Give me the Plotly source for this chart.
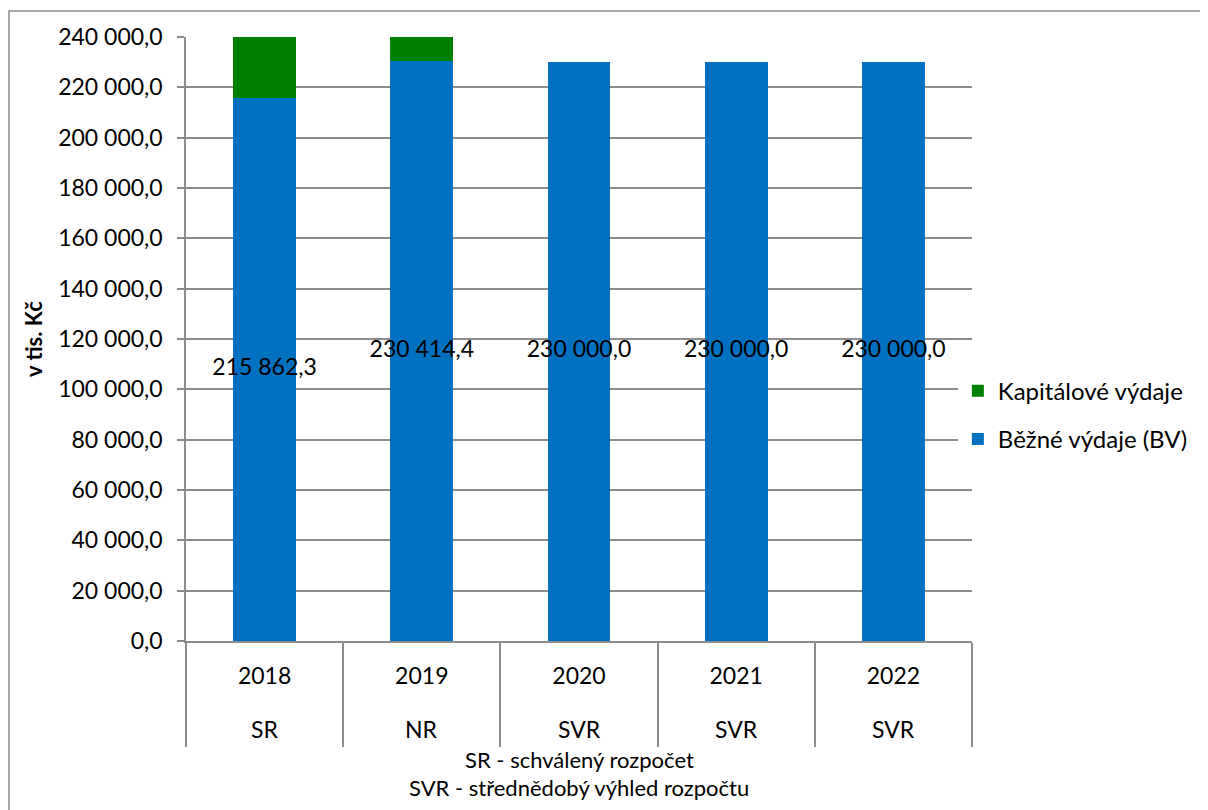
import plotly.graph_objects as go

years = ["2018", "2019", "2020", "2021", "2022"]
budget_types = ["SR", "NR", "SVR", "SVR", "SVR"]
bezne_vydaje = [215862.3, 230414.4, 230000.0, 230000.0, 230000.0]
kapitalove_vydaje = [35000.0, 15000.0, 0.0, 0.0, 0.0]
x_title_lines = ["SR - schválený rozpočet", "SVR - střednědobý výhled rozpočtu"]

FONT = "Lato, Open Sans, sans-serif"
GRID = "#8c8c8c"
FS = 23

fig = go.Figure()
fig.add_trace(go.Bar(x=years, y=bezne_vydaje, name="Běžné výdaje (BV)",
                     marker=dict(color="#0070C0", line=dict(width=0)),
                     legendrank=2, legendgroup="bv"))
fig.add_trace(go.Bar(x=years, y=kapitalove_vydaje, name="Kapitálové výdaje",
                     marker=dict(color="#008000", line=dict(width=0)),
                     legendrank=1, legendgroup="kv"))

# value labels centred in the blue segment
fig.add_trace(go.Scatter(
    x=years, y=[v / 2 for v in bezne_vydaje], mode="text",
    text=[f"{v:,.1f}".replace(",", " ").replace(".", ",") for v in bezne_vydaje],
    textfont=dict(family=FONT, size=FS, color="black"),
    showlegend=False, hoverinfo="skip", cliponaxis=False))

fig.update_layout(
    width=1208, height=810,
    barmode="stack", bargap=0.6,
    separators=", ",
    plot_bgcolor="white", paper_bgcolor="white",
    margin=dict(l=178, r=244, t=29, b=177),
    font=dict(family=FONT, size=FS, color="black"),
    legend=dict(x=0.982, xanchor="left", y=0.374, yanchor="middle",
                traceorder="grouped", tracegroupgap=14,
                font=dict(size=24), itemwidth=30),
    showlegend=True,
)

fig.update_yaxes(range=[0, 240000], dtick=20000, tickformat=",.1f",
                 showgrid=True, gridcolor=GRID, gridwidth=1.5,
                 showline=True, linecolor=GRID, linewidth=1.5,
                 ticks="outside", ticklen=7, tickcolor=GRID, tickwidth=1.5,
                 zeroline=False, tickfont=dict(size=FS), ticklabelstandoff=10)
fig.update_xaxes(type="category", range=[-0.5, len(years) - 0.5],
                 showline=True, linecolor=GRID, linewidth=1.5,
                 ticks="outside", tickson="boundaries", ticklen=104,
                 tickcolor=GRID, tickwidth=1.5, showgrid=False,
                 tickfont=dict(size=FS), ticklabelstandoff=14)

# second row of the category axis
for i, bt in enumerate(budget_types):
    fig.add_annotation(text=bt, x=i, xref="x", yref="paper", y=-0.1457,
                       yanchor="middle", showarrow=False, font=dict(size=FS))

# axis titles
fig.add_annotation(text="<b>v tis. Kč</b>", xref="paper", yref="paper",
                   x=-0.1947, y=0.5, textangle=-90, showarrow=False,
                   xanchor="center", yanchor="middle", font=dict(size=22))
for i, line in enumerate(x_title_lines):
    fig.add_annotation(text=line, xref="paper", yref="paper",
                       x=0.5, y=-0.197 - i * 0.0455, yanchor="middle",
                       showarrow=False, borderpad=0, font=dict(size=22))

# outer chart border
fig.add_shape(type="rect", xref="paper", yref="paper",
              x0=-0.2252, y0=-0.35, x1=1.33, y1=1.043,
              line=dict(color=GRID, width=1.5), layer="below")

fig.write_html("out.html")
